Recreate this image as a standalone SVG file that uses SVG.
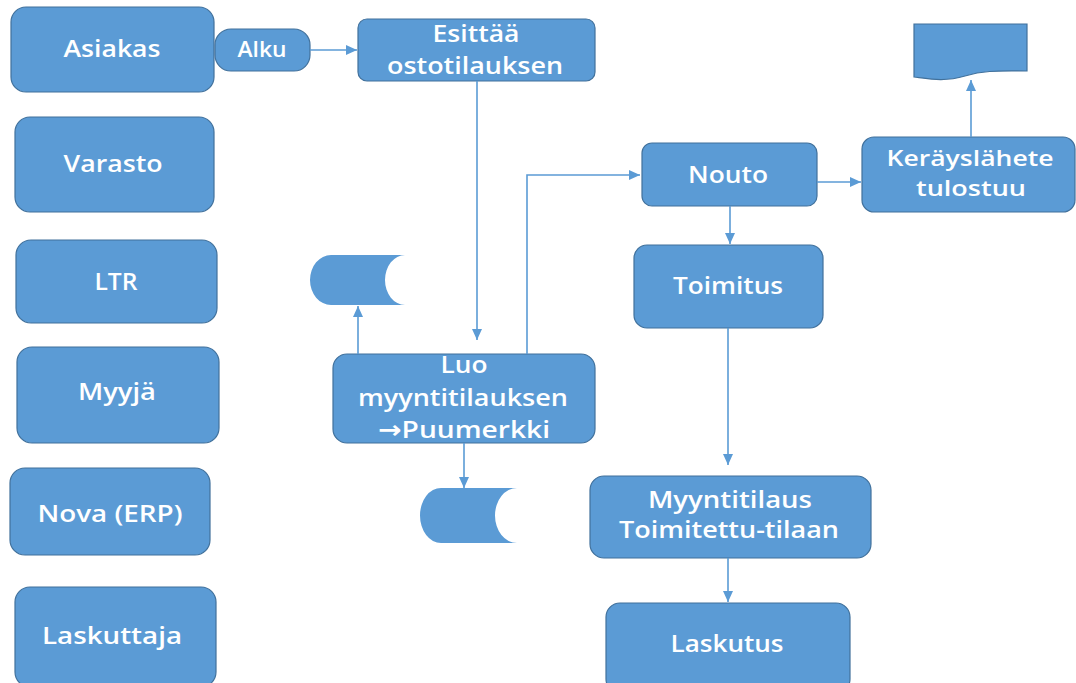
<svg xmlns="http://www.w3.org/2000/svg" width="1076" height="683" viewBox="0 0 1076 683">
  <defs>
    <style>
      .box { fill: #5B9BD5; stroke: #41719C; stroke-width: 1.2; }
      .store { fill: #5B9BD5; stroke: none; }
      .lbl { font-family: "Open Sans", "DejaVu Sans", sans-serif; font-size: 24px; font-weight: 600; fill: #FFFFFF; text-anchor: middle; }
      .lbl-m { font-family: "Open Sans", "DejaVu Sans", sans-serif; font-size: 22px; font-weight: 600; fill: #FFFFFF; text-anchor: middle; }
      .lbl-s { font-family: "Open Sans", "DejaVu Sans", sans-serif; font-size: 21px; font-weight: 600; fill: #FFFFFF; text-anchor: middle; }
      .conn { fill: none; stroke: #5B9BD5; stroke-width: 1.6; marker-end: url(#arrow); }
    </style>
    <marker id="arrow" markerWidth="12" markerHeight="10" refX="11" refY="5" orient="auto" markerUnits="userSpaceOnUse">
      <path d="M0,0 L11,5 L0,10 Z" fill="#5B9BD5"/>
    </marker>
  </defs>
  <rect width="1076" height="683" fill="#FFFFFF"/>

  <!-- role column -->
  <g id="asiakas">
    <rect class="box" x="11" y="7" width="203" height="85" rx="15"/>
    <text class="lbl" x="112" y="57" textLength="97" lengthAdjust="spacingAndGlyphs">Asiakas</text>
  </g>
  <g id="varasto">
    <rect class="box" x="15" y="117" width="199" height="95" rx="15"/>
    <text class="lbl" x="113" y="172" textLength="99" lengthAdjust="spacingAndGlyphs">Varasto</text>
  </g>
  <g id="ltr">
    <rect class="box" x="16" y="240" width="201" height="83" rx="15"/>
    <text class="lbl" x="116" y="290" textLength="43" lengthAdjust="spacingAndGlyphs">LTR</text>
  </g>
  <g id="myyja">
    <rect class="box" x="17" y="347" width="202" height="96" rx="15"/>
    <text class="lbl" x="117" y="400" textLength="78" lengthAdjust="spacingAndGlyphs">Myyjä</text>
  </g>
  <g id="nova">
    <rect class="box" x="10" y="468" width="200" height="87" rx="15"/>
    <text class="lbl" x="110" y="522" textLength="145" lengthAdjust="spacingAndGlyphs">Nova (ERP)</text>
  </g>
  <g id="laskuttaja">
    <rect class="box" x="15" y="587" width="201" height="100" rx="15"/>
    <text class="lbl" x="112" y="644" textLength="140" lengthAdjust="spacingAndGlyphs">Laskuttaja</text>
  </g>

  <!-- process -->
  <g id="alku">
    <rect class="box" x="215" y="29" width="95" height="42" rx="16"/>
    <text class="lbl-s" x="262" y="57" textLength="49" lengthAdjust="spacingAndGlyphs">Alku</text>
  </g>
  <g id="esittaa">
    <rect class="box" x="358" y="19" width="237" height="62" rx="9"/>
    <text class="lbl" x="476" y="42" textLength="87" lengthAdjust="spacingAndGlyphs">Esittää</text>
    <text class="lbl" x="475" y="74" textLength="176" lengthAdjust="spacingAndGlyphs">ostotilauksen</text>
  </g>
  <g id="luo">
    <rect class="box" x="333" y="354" width="262" height="89" rx="14"/>
    <text class="lbl" x="464" y="373" textLength="47" lengthAdjust="spacingAndGlyphs">Luo</text>
    <text class="lbl" x="463" y="406" textLength="210" lengthAdjust="spacingAndGlyphs">myyntitilauksen</text>
    <text class="lbl" x="464" y="438" textLength="172" lengthAdjust="spacingAndGlyphs">→Puumerkki</text>
  </g>
  <g id="tallenne-1">
    <path class="store" d="M331,255 L405,255 A20,25 0 0 0 405,305 L331,305 A21,25 0 0 1 331,255 Z"/>
  </g>
  <g id="tallenne-2">
    <path class="store" d="M441,488 L517,488 A22,27.5 0 0 0 517,543 L441,543 A21,27.5 0 0 1 441,488 Z"/>
  </g>
  <g id="nouto">
    <rect class="box" x="642" y="143" width="175" height="63" rx="10"/>
    <text class="lbl" x="728" y="183" textLength="80" lengthAdjust="spacingAndGlyphs">Nouto</text>
  </g>
  <g id="kerayslahete">
    <rect class="box" x="862" y="137" width="213" height="75" rx="12"/>
    <text class="lbl-m" x="970" y="166" textLength="167" lengthAdjust="spacingAndGlyphs">Keräyslähete</text>
    <text class="lbl-m" x="971" y="196" textLength="110" lengthAdjust="spacingAndGlyphs">tulostuu</text>
  </g>
  <g id="tuloste">
    <path class="box" d="M914,24 L1027,24 L1027,71 C1000,71 985,70 965,76 C945,82 930,79 914,77 Z"/>
  </g>
  <g id="toimitus">
    <rect class="box" x="634" y="245" width="189" height="83" rx="13"/>
    <text class="lbl" x="728" y="294" textLength="110" lengthAdjust="spacingAndGlyphs">Toimitus</text>
  </g>
  <g id="myyntitilaus">
    <rect class="box" x="590" y="476" width="281" height="82" rx="14"/>
    <text class="lbl" x="730" y="508" textLength="164" lengthAdjust="spacingAndGlyphs">Myyntitilaus</text>
    <text class="lbl" x="729" y="538" textLength="220" lengthAdjust="spacingAndGlyphs">Toimitettu-tilaan</text>
  </g>
  <g id="laskutus">
    <rect class="box" x="606" y="603" width="244" height="90" rx="14"/>
    <text class="lbl" x="727" y="652" textLength="113" lengthAdjust="spacingAndGlyphs">Laskutus</text>
  </g>

  <!-- connectors -->
  <g id="connectors">
    <path class="conn" d="M310,50 H357"/>
    <path class="conn" d="M477,81 V340"/>
    <path class="conn" d="M527,354 V175 H640"/>
    <path class="conn" d="M358,354 V306"/>
    <path class="conn" d="M464,443 V488"/>
    <path class="conn" d="M817,182 H861"/>
    <path class="conn" d="M971,137 V80"/>
    <path class="conn" d="M730,206 V244"/>
    <path class="conn" d="M728,328 V465"/>
    <path class="conn" d="M728,558 V602"/>
  </g>
</svg>
